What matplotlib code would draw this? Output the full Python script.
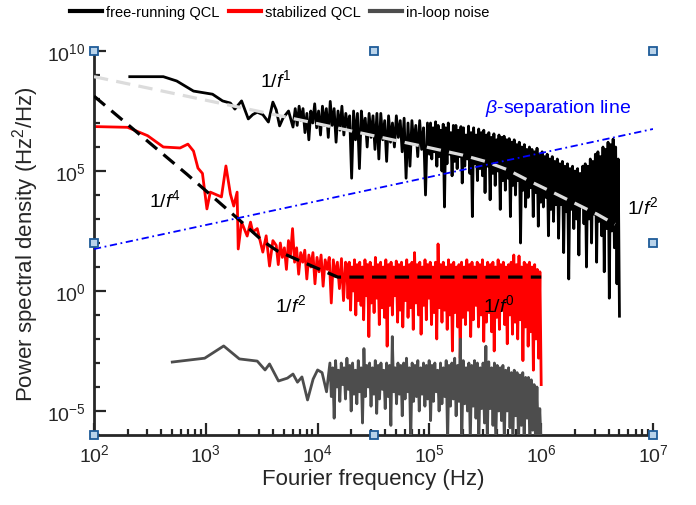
import numpy as np
import matplotlib
matplotlib.use('Agg')
import matplotlib.pyplot as plt
from matplotlib.ticker import NullFormatter
from matplotlib.lines import Line2D
from matplotlib import font_manager

plt.rcParams['font.family'] = ['Liberation Sans', 'DejaVu Sans']
plt.rcParams['mathtext.fontset'] = 'custom'
plt.rcParams['mathtext.rm'] = 'Liberation Sans'
plt.rcParams['mathtext.it'] = 'Liberation Sans:italic'
plt.rcParams['mathtext.bf'] = 'Liberation Sans:bold'

# ---------------- data (log10 of frequency in Hz, log10 of PSD in Hz^2/Hz) -------------
# free-running QCL: smooth low-frequency part
free_smooth_logf = [2.32, 2.62, 2.74, 2.89, 3.06, 3.15, 3.22, 3.26, 3.32, 3.38, 3.42,
                    3.46, 3.51, 3.56, 3.60, 3.63, 3.66, 3.69, 3.74, 3.78]
free_smooth_logp = [8.93, 8.93, 8.75, 8.33, 8.20, 7.92, 7.83, 7.58, 7.92, 7.17, 7.35,
                    7.45, 7.35, 7.04, 7.87, 7.55, 6.88, 7.20, 7.50, 6.83]
# free-running QCL: noisy part, segment A (3.80 -> 5.00)
free_segA_range = (3.80, 5.00)
free_segA_logp = [7.6, 6.9, 7.7, 7.1, 7.6, 6.6, 7.4, 6.3, 7.5, 7.0,
                  7.8, 6.8, 7.5, 6.5, 7.7, 6.9, 7.6, 6.4, 7.9, 6.9,
                  7.6, 6.2, 7.5, 6.7, 7.7, 6.5, 7.4, 6.8, 7.3, 4.7,
                  7.5, 6.3, 7.4, 5.1, 7.5, 6.6, 7.2, 6.0, 7.4, 6.4,
                  7.3, 5.9, 7.4, 5.5, 7.4, 6.3, 7.1, 5.4, 7.3, 6.2,
                  7.0, 6.0, 7.3, 6.4, 7.1, 5.8, 7.2, 4.7, 7.0, 5.2,
                  7.1, 6.1, 6.9, 5.6, 7.1, 5.9, 6.8, 4.0, 7.0, 5.7]
# free-running QCL: noisy part, segment B (5.01 -> 6.70)
free_segB_range = (5.01, 6.70)
free_segB_logp = [7.0, 5.5, 6.8, 5.8, 7.05, 5.2, 6.9, 5.6, 6.7, 5.0,
                  6.95, 3.5, 6.8, 5.3, 7.0, 5.7, 6.6, 4.8, 6.9, 5.4,
                  6.9, 5.1, 6.7, 5.6, 6.85, 4.5, 6.8, 5.2, 6.5, 5.5,
                  6.87, 4.9, 6.6, 3.1, 6.8, 5.3, 6.5, 4.6, 6.75, 5.1,
                  6.6, 4.8, 6.7, 4.1, 6.5, 5.2, 6.6, 3.8, 6.4, 4.9,
                  6.55, 4.4, 6.3, 5.0, 6.5, 3.4, 6.4, 4.6, 6.45, 4.2,
                  6.3, 4.7, 6.35, 3.1, 6.2, 4.4, 6.3, 4.0, 6.1, 4.6,
                  6.2, 2.0, 6.0, 4.2, 6.1, 3.5, 5.9, 3.9, 6.0, 4.3,
                  5.9, 3.1, 5.8, 4.1, 5.95, 2.7, 5.7, 3.7, 5.8, 3.5,
                  5.6, 3.9, 5.7, 2.3, 5.5, 3.4, 5.6, 2.9, 5.4, 3.6,
                  5.5, 2.2, 5.3, 3.6, 5.4, 1.6, 5.2, 3.3, 5.3, 0.5,
                  5.1, 3.4, 5.2, 2.6, 5.0, 3.0, 5.1, 1.5, 4.9, 3.5,
                  5.2, 2.8, 5.3, 1.0, 5.2, 3.0, 5.5, 2.0, 5.4, 3.2,
                  5.7, 1.2, 5.8, 2.9, 5.6, 2.3, 6.0, 0.8, 5.9, 2.6,
                  6.2, -0.3, 6.1, 2.5, 6.33, 1.8, 6.0, 0.3, 5.5, -1.05]

# stabilized QCL: smooth low-frequency part
stab_smooth_logf = [2.01, 2.30, 2.48, 2.62, 2.77, 2.84, 2.89, 2.93, 2.97, 3.01, 3.04,
                    3.08, 3.14, 3.18, 3.22, 3.25, 3.28, 3.29, 3.32, 3.37, 3.40, 3.42,
                    3.46, 3.51, 3.54, 3.57, 3.60]
stab_smooth_logp = [6.85, 6.82, 6.47, 6.00, 5.96, 6.12, 5.83, 5.12, 4.90, 3.42, 4.12,
                    4.04, 3.92, 5.21, 4.04, 3.54, 4.12, 1.75, 2.87, 2.29, 2.87, 2.46,
                    2.60, 1.62, 2.30, 1.04, 2.10]
# stabilized QCL: noisy part, segment 1 (3.63 -> 4.25)
stab_seg1_range = (3.63, 4.25)
stab_seg1_logp = [1.9, 1.1, 2.0, 1.4, 1.8, 0.9, 2.1, 1.5, 2.6, 1.2,
                  1.8, 0.7, 1.6, 1.2, 1.7, 0.5, 1.5, 1.0, 1.6, 0.3,
                  1.4, 0.8, 1.5, 0.2, 1.3, 0.9, 1.4, -0.5, 1.3, 0.6,
                  1.2, 0.1, 1.35, -0.4, 1.2]
# stabilized QCL: noisy part, segment 2 (4.26 -> 6.00)
stab_seg2_range = (4.26, 6.00)
stab_seg2_logp = [1.1, -0.3, 1.2, -0.8, 1.0, 0.0, 1.3, -1.0, 1.1, -0.4,
                  1.2, -0.6, 1.0, -1.2, 1.3, -0.2, 1.1, -1.9, 1.2, -0.5,
                  1.0, -0.9, 1.4, -0.3, 1.1, -1.4, 1.2, -0.7, 1.0, -1.1,
                  1.3, -2.3, 1.1, -0.6, 1.2, -1.0, 1.0, -0.2, 1.25, -1.3,
                  1.1, -0.8, 1.2, -1.5, 1.0, -0.4, 1.3, -1.1, 1.1, -0.7,
                  1.2, -1.6, 1.6, -0.5, 1.1, -1.0, 1.2, -1.8, 1.0, -0.6,
                  1.3, -1.2, 1.1, -0.3, 1.2, -1.4, 1.0, -0.9, 1.2, -2.0,
                  1.96, -0.7, 1.1, -1.3, 1.2, -0.8, 1.0, -1.6, 1.3, -1.0,
                  1.1, -2.5, 1.2, -0.9, 1.0, -1.5, 1.1, -2.8, 1.2, -1.1,
                  1.0, -1.4, 1.3, -0.8, 1.1, -1.9, 1.2, -1.2, 1.0, -0.6,
                  1.2, -1.5, 1.1, -1.0, 1.3, -2.1, 1.0, -1.3, 1.2, -0.9,
                  1.1, -1.7, 1.2, -2.5, 1.0, -1.1, 1.3, -1.6, 1.1, -0.8,
                  1.2, -1.4, 1.0, -2.2, 1.1, -1.0, 1.2, -1.8, 1.5, -1.3,
                  1.1, -2.0, 1.46, -1.2, 1.0, -2.9, 1.2, -1.5, 1.1, -2.3,
                  1.2, -1.7, 1.0, -3.3, 1.1, -2.0, 0.9, -2.8, 0.8, -3.9]

# in-loop noise: smooth low-frequency part
loop_smooth_logf = [2.70, 2.99, 3.16, 3.30, 3.46, 3.53, 3.57, 3.65, 3.73, 3.78, 3.82,
                    3.86, 3.91, 3.96, 4.00, 4.04, 4.08]
loop_smooth_logp = [-2.96, -2.80, -2.29, -2.83, -2.92, -3.29, -3.04, -3.75, -3.63,
                    -3.46, -3.80, -3.58, -4.54, -3.67, -3.29, -3.40, -4.20]
# in-loop noise: noisy part (4.11 -> 6.00)
loop_noise_range = (4.11, 6.00)
loop_noise_logp = [-3.0, -4.4, -3.2, -5.3, -2.9, -4.0, -3.3, -4.6, -3.0, -3.9,
                   -3.2, -4.5, -2.8, -4.1, -3.1, -5.0, -3.0, -4.3, -3.3, -4.7,
                   -2.9, -4.2, -3.2, -5.5, -2.4, -4.4, -3.1, -4.0, -3.0, -4.8,
                   -3.2, -4.3, -2.9, -5.1, -3.1, -4.5, -3.0, -4.1, -3.3, -4.9,
                   -3.0, -4.4, -3.1, -5.6, -1.9, -4.2, -3.2, -4.7, -3.0, -4.3,
                   -3.1, -5.2, -3.0, -4.5, -2.8, -4.2, -3.2, -6.3, -3.0, -4.6,
                   -3.1, -4.4, -2.9, -5.0, -3.2, -4.3, -3.0, -4.8, -3.1, -4.5,
                   -2.9, -5.4, -3.1, -4.6, -3.0, -4.2, -3.3, -5.0, -3.0, -4.7,
                   -3.2, -4.4, -2.9, -6.3, -3.1, -4.8, -3.0, -4.5, -2.8, -5.2,
                   -3.1, -4.6, -2.0, -6.4, -2.9, -4.7, -3.2, -5.0, -3.0, -6.3,
                   -3.1, -4.8, -2.9, -5.3, -3.0, -6.4, -3.2, -4.9, -3.0, -5.5,
                   -2.3, -6.3, -2.95, -4.9, -3.2, -5.6, -3.0, -6.4, -3.1, -5.0,
                   -3.2, -5.4, -3.1, -6.3, -3.3, -5.0, -3.2, -5.7, -3.4, -6.3,
                   -3.3, -5.2, -3.4, -6.4, -3.5, -5.6, -3.4, -6.3, -3.6, -5.3,
                   -3.6, -6.4, -3.7, -5.8, -3.9, -6.3, -4.0, -6.4, -4.9, -6.5]

# fitted guide lines
fit_free_logf = [2.0, 3.0, 4.0, 5.0, 5.3, 5.5, 5.7, 5.9, 6.1, 6.3, 6.5, 6.66]
fit_free_logp = [8.93, 7.95, 6.97, 5.97, 5.66, 5.40, 5.05, 4.57, 4.12, 3.66, 3.20, 2.78]
fit_stab_logf = [2.0, 2.83, 3.29, 3.51, 3.64, 3.87, 4.18, 6.0]
fit_stab_logp = [8.12, 4.87, 3.00, 2.08, 1.67, 1.20, 0.58, 0.58]
beta_f = [1e2, 1e7]
beta_psd = [56.2, 5.62e6]

legend_labels = ['free-running QCL', 'stabilized QCL', 'in-loop noise']
annotations = [('1/$\\mathit{f}^{1}$', 3.63, 8.83),
               ('1/$\\mathit{f}^{4}$', 2.635, 3.83),
               ('1/$\\mathit{f}^{2}$', 3.76, -0.54),
               ('1/$\\mathit{f}^{0}$', 5.62, -0.54),
               ('1/$\\mathit{f}^{2}$', 6.91, 3.54)]


def build(smooth_f, smooth_p, segments):
    lf = list(smooth_f)
    lp = list(smooth_p)
    for (a, b), vals in segments:
        lf += list(np.linspace(a, b, len(vals)))
        lp += list(vals)
    return 10.0 ** np.array(lf), 10.0 ** np.array(lp)


free_f, free_p = build(free_smooth_logf, free_smooth_logp,
                       [(free_segA_range, free_segA_logp), (free_segB_range, free_segB_logp)])
stab_f, stab_p = build(stab_smooth_logf, stab_smooth_logp,
                       [(stab_seg1_range, stab_seg1_logp), (stab_seg2_range, stab_seg2_logp)])
loop_f, loop_p = build(loop_smooth_logf, loop_smooth_logp, [(loop_noise_range, loop_noise_logp)])

# ---------------- figure ----------------
W, H = 696, 506
fig = plt.figure(figsize=(W / 100, H / 100), dpi=100)
ax = fig.add_axes([94 / W, 1 - 436 / H, (653 - 94) / W, (436 - 52) / H])

axis_col = '#262626'
ax.plot(free_f, free_p, color='black', lw=2.0, zorder=2)
ax.plot(10.0 ** np.array(fit_free_logf), 10.0 ** np.array(fit_free_logp),
        color='#dcdcdc', lw=2.3, dashes=(4.5, 2.6), zorder=3)
ax.plot(stab_f, stab_p, color='#ff0000', lw=2.0, zorder=2.5)
ax.plot(10.0 ** np.array(fit_stab_logf), 10.0 ** np.array(fit_stab_logp),
        color='black', lw=2.3, dashes=(4.5, 2.6), zorder=4)
ax.plot(loop_f, loop_p, color='#4d4d4d', lw=2.0, zorder=5)
ax.plot(beta_f, beta_psd, color='#0000ff', lw=1.3, dashes=(4, 2, 1, 2), zorder=6)

ax.set_xscale('log')
ax.set_yscale('log')
ax.set_xlim(1e2, 1e7)
ax.set_ylim(1e-6, 1e10)

ax.set_xticks([10.0 ** k for k in range(2, 8)])
ax.set_xticks([m * 10.0 ** k for k in range(2, 7) for m in range(2, 10)], minor=True)
ax.set_yticks([1e-5, 1e0, 1e5, 1e10])
ax.set_yticks([10.0 ** k for k in range(-6, 11)], minor=True)
ax.xaxis.set_minor_formatter(NullFormatter())
ax.yaxis.set_minor_formatter(NullFormatter())

for s in ['top', 'right']:
    ax.spines[s].set_visible(False)
for s in ['left', 'bottom']:
    ax.spines[s].set_linewidth(2.0)
    ax.spines[s].set_color(axis_col)
ax.tick_params(which='major', direction='in', length=8.5, width=1.6, color=axis_col,
               labelsize=14, labelcolor=axis_col, pad=6)
ax.tick_params(which='minor', direction='in', length=4.5, width=1.6, color=axis_col)

ax.set_xlabel('Fourier frequency (Hz)', fontsize=16, color=axis_col, labelpad=2)
ax.set_ylabel('Power spectral density (Hz$^2$/Hz)', fontsize=16, color=axis_col, labelpad=4)

for txt, lx, ly in annotations:
    ax.text(10.0 ** lx, 10.0 ** ly, txt, fontsize=14, ha='center', va='center',
            color='black', zorder=8, clip_on=False)
ax.text(10.0 ** 6.15, 10.0 ** 7.63, '$\\mathit{\\beta}$-separation line', fontsize=14,
        ha='center', va='center', color='#0000ff', zorder=8)

# selection handles
hx = [0, 0.5, 1, 0, 1, 0, 0.5, 1]
hy = [1, 1, 1, 0.5, 0.5, 0, 0, 0]
ax.plot(hx, hy, 's', transform=ax.transAxes, ms=6, mfc='#b9d3ea', mec='#1f5c99',
        mew=1.3, clip_on=False, zorder=20, linestyle='none')

# legend font: a narrow sans if available
names = {f.name for f in font_manager.fontManager.ttflist}
if 'Liberation Sans Narrow' in names:
    leg_prop = font_manager.FontProperties(family='Liberation Sans Narrow', size=12)
else:
    leg_prop = font_manager.FontProperties(family='Liberation Sans', size=10.5)

handles = [Line2D([], [], color='black', lw=3),
           Line2D([], [], color='#ff0000', lw=3),
           Line2D([], [], color='#4d4d4d', lw=3)]
fig.legend(handles, legend_labels, loc='center left', bbox_to_anchor=(70 / W, 1 - 13 / H),
           ncol=3, frameon=False, prop=leg_prop, handlelength=2.2, handletextpad=0.3,
           columnspacing=0.6, borderpad=0, borderaxespad=0)

fig.savefig('out.png', dpi=100)
